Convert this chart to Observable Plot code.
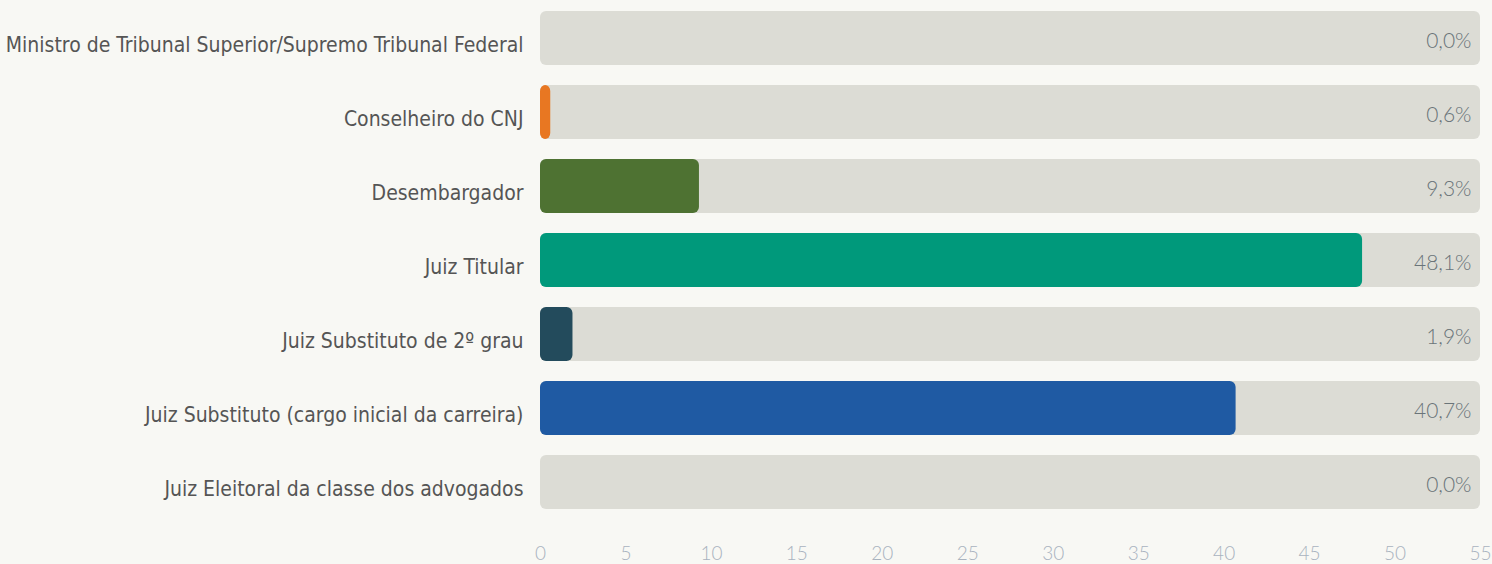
<!DOCTYPE html>
<html><head><meta charset="utf-8">
<script src="https://cdn.jsdelivr.net/npm/d3@7"></script>
<script src="https://cdn.jsdelivr.net/npm/@observablehq/plot@0.6"></script>
<style>
html,body{margin:0;padding:0;background:#f8f8f4;}
#chart{width:1492px;height:564px;}
g[aria-label="y-axis tick label"] text{font-stretch:condensed;}
g[aria-label="x-axis tick label"] text{font-stretch:condensed;}
</style></head>
<body><div id="chart"></div>
<script>
const categories = [
  "Ministro de Tribunal Superior/Supremo Tribunal Federal",
  "Conselheiro do CNJ",
  "Desembargador",
  "Juiz Titular",
  "Juiz Substituto de 2º grau",
  "Juiz Substituto (cargo inicial da carreira)",
  "Juiz Eleitoral da classe dos advogados"
];
const values = [0.0, 0.6, 9.3, 48.1, 1.9, 40.7, 0.0];
const colors = ["#9e9e9e", "#e87722", "#4e7232", "#00997b", "#234b5c", "#1f5aa3", "#9e9e9e"];
const tickValues = [0, 5, 10, 15, 20, 25, 30, 35, 40, 45, 50, 55];
const xMax = 55;

const data = categories.map((c, i) => ({cat: c, value: values[i], color: colors[i], label: values[i].toFixed(1).replace(".", ",") + "%"}));

const chart = Plot.plot({
  width: 1492,
  height: 564,
  marginLeft: 540,
  marginRight: 12,
  marginTop: 8,
  marginBottom: 52,
  style: {background: "#f8f8f4", overflow: "visible"},
  x: {domain: [0, xMax], ticks: tickValues, label: null},
  y: {domain: categories, paddingInner: 0.277, paddingOuter: 0, label: null},
  marks: [
    Plot.barX(data, {y: "cat", x1: 0, x2: xMax, fill: "#dcdcd5", rx: 6}),
    Plot.barX(data.filter(d => d.value > 0), {y: "cat", x1: 0, x2: "value", fill: "color", rx: 6}),
    Plot.text(data, {y: "cat", x: xMax, text: "label", textAnchor: "end", dx: -9, dy: 3, fill: "#6a7479", fontSize: 21, fontWeight: 300, fontFamily: "Lato, sans-serif"}),
    Plot.axisY({tickSize: 0, tickPadding: 17, dy: 7, fontSize: 21, fill: "#555", stroke: "#555", strokeWidth: 0.35, fontFamily: "'DejaVu Sans', sans-serif", fontWeight: 500}),
    Plot.axisX({ticks: tickValues, tickSize: 0, tickPadding: 34, fontSize: 19, fill: "#a9b3bf", fontWeight: 300, fontFamily: "Lato, sans-serif"})
  ]
});
document.getElementById("chart").appendChild(chart);
</script></body></html>
